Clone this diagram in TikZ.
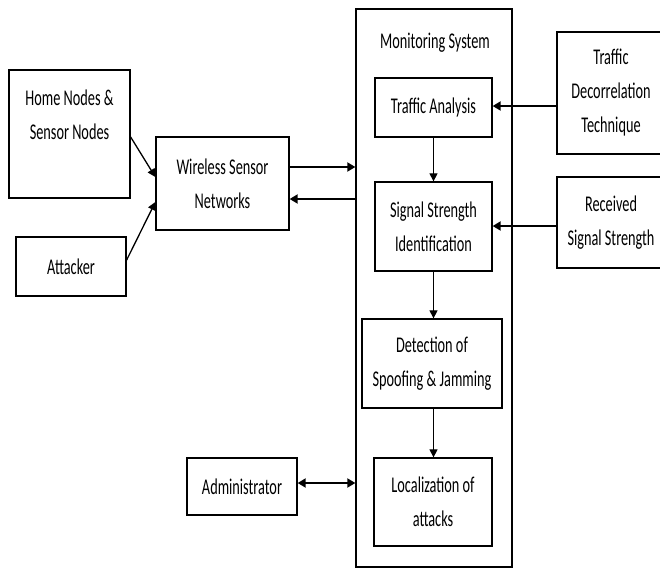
\documentclass[tikz,border=0pt]{standalone}
\usepackage{fontspec}
\setmainfont[FakeStretch=0.635]{Carlito}
\usetikzlibrary{arrows.meta,calc}
\begin{document}
\begin{tikzpicture}[x=1pt,y=-1pt,
  box/.style={draw,line width=1.3pt,inner sep=0pt,align=center,font=\fontsize{22.5}{34}\selectfont},
  lbl/.style={inner sep=0pt,align=center,font=\fontsize{22.5}{34}\selectfont},
  harr/.style={line width=1.8pt,-{Triangle[length=8pt,width=9pt]}},
  varr/.style={line width=1.2pt,-{Triangle[length=8pt,width=8pt]}}]
\useasboundingbox (0,0) rectangle (660,568);
\node[box,minimum width=156pt,minimum height=558pt] (mon) at (434,288) {};
\node[lbl] (montxt) at (435,43) {Monitoring System};
\node[box,minimum width=121pt,minimum height=128pt] (home) at (69.5,134) {};
\node[lbl] (hometxt) at (69.5,115) {Home Nodes \&\\Sensor Nodes};
\node[box,minimum width=110pt,minimum height=59pt] (att) at (71,266.5) {Attacker};
\node[box,minimum width=133pt,minimum height=93pt] (wsn) at (222.5,183.5) {Wireless Sensor\\Networks};
\node[box,minimum width=117pt,minimum height=59pt] (ta) at (433.5,107.5) {Traffic Analysis};
\node[box,minimum width=117pt,minimum height=89pt] (ssi) at (433.5,226.5) {Signal Strength\\Identification};
\node[box,minimum width=140pt,minimum height=89pt] (det) at (432,363.5) {Detection of\\Spoofing \& Jamming};
\node[box,minimum width=118pt,minimum height=88pt] (loc) at (433,502) {Localization of\\attacks};
\node[box,minimum width=110pt,minimum height=57pt] (adm) at (242,486.5) {Administrator};
\node[box,minimum width=108pt,minimum height=122pt] (td) at (611,93) {Traffic\\Decorrelation\\Technique};
\node[box,minimum width=108pt,minimum height=91pt] (rss) at (611,222.5) {Received\\Signal Strength};
% connectors
\coordinate (h1) at ($(home.east)+(0,3)$);
\coordinate (h2) at ($(wsn.west)+(0,-6.5)$);
\coordinate (a1) at ($(att.east)+(0,-6.5)$);
\coordinate (a2) at ($(wsn.west)+(0,18.5)$);
\draw[line width=1.3pt,-{Triangle[length=8pt,width=8pt]}] (h1) -- (h2);
\draw[line width=1.3pt,-{Triangle[length=8pt,width=8pt]}] (a1) -- (a2);
\coordinate (w1) at ($(wsn.east)+(0,-16.5)$);
\coordinate (w2) at ($(wsn.east)+(0,15.5)$);
\draw[harr] (w1) -- (w1 -| mon.west);
\draw[harr] (w2 -| mon.west) -- (w2);
\coordinate (d1) at ($(adm.east)+(0,-3.5)$);
\draw[line width=1.8pt,{Triangle[length=8pt,width=9pt]}-{Triangle[length=8pt,width=9pt]}] (d1) -- (d1 -| mon.west);
\coordinate (t1) at ($(ta.east)+(0,-1.5)$);
\draw[harr] (t1 -| td.west) -- (t1);
\coordinate (s1) at ($(ssi.east)+(0,-0.5)$);
\draw[harr] (s1 -| rss.west) -- (s1);
\draw[varr] (ta.south) -- (ta.south |- ssi.north);
\draw[varr] (ssi.south) -- (ssi.south |- det.north);
\draw[varr] (ssi.south |- det.south) -- (ssi.south |- loc.north);
\end{tikzpicture}
\end{document}
